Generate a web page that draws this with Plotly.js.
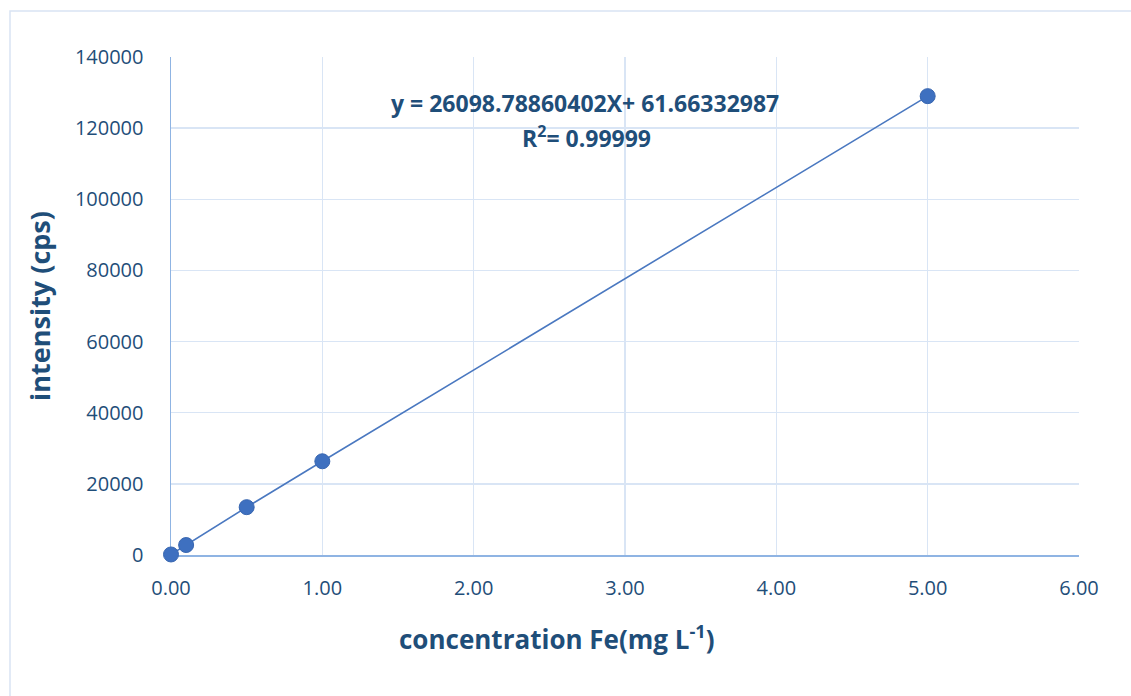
<!DOCTYPE html>
<html>
<head>
<meta charset="utf-8">
<script src="https://cdn.plot.ly/plotly-3.0.1.min.js"></script>
<style>
html,body{margin:0;padding:0;background:#fff;}
#chart{width:1131px;height:696px;}
</style>
</head>
<body>
<div id="chart"></div>
<script>
// Data
const concentration = [0.0, 0.1, 0.5, 1.0, 5.0];          // mg L-1
const intensity = [150, 2800, 13450, 26350, 129000];       // cps
const xTicks = [0, 1, 2, 3, 4, 5, 6];
const xTickLabels = ["0.00", "1.00", "2.00", "3.00", "4.00", "5.00", "6.00"];
const yTicks = [0, 20000, 40000, 60000, 80000, 100000, 120000, 140000];
const yTickLabels = ["0", "20000", "40000", "60000", "80000", "100000", "120000", "140000"];
const equationText = "y = 26098.78860402X+ 61.66332987";
const r2Text = "R<sup>2</sup>= 0.99999";
const xTitle = "concentration Fe(mg L<sup>-1</sup>)";
const yTitle = "intensity (cps)";

const textColor = "#1F4E79";
const fontFam = "Open Sans, Lato, sans-serif";

const traces = [
  {
    x: concentration,
    y: intensity,
    type: "scatter",
    mode: "lines+markers",
    cliponaxis: false,
    line: {color: "#4A78C0", width: 1.6},
    marker: {color: "#3E70C0", size: 15, line: {color: "#3866B0", width: 1}},
    hoverinfo: "x+y",
    showlegend: false
  }
];

const layout = {
  width: 1131,
  height: 696,
  paper_bgcolor: "#ffffff",
  plot_bgcolor: "#ffffff",
  margin: {l: 171, r: 52, t: 57, b: 141, pad: 0},
  font: {family: fontFam, color: textColor, size: 20},
  xaxis: {
    range: [0, 6],
    tickvals: xTicks,
    ticktext: xTickLabels,
    showgrid: true,
    gridcolor: "#D9E5F5",
    gridwidth: 1.5,
    zeroline: false,
    showline: true,
    linecolor: "#8FB4E3",
    linewidth: 1.5,
    layer: "below traces",
    ticks: "outside",
    ticklen: 14,
    tickcolor: "rgba(0,0,0,0)",
    tickfont: {family: fontFam, size: 20, color: textColor},
    fixedrange: true
  },
  yaxis: {
    range: [0, 140000],
    tickvals: yTicks,
    ticktext: yTickLabels,
    showgrid: true,
    gridcolor: "#D9E5F5",
    gridwidth: 1.5,
    zeroline: false,
    showline: true,
    linecolor: "#8FB4E3",
    linewidth: 1.5,
    layer: "below traces",
    ticks: "outside",
    ticklen: 22,
    tickcolor: "rgba(0,0,0,0)",
    tickfont: {family: fontFam, size: 20, color: textColor},
    title: {
      text: yTitle,
      font: {family: fontFam, size: 27, color: textColor, weight: "bold"},
      standoff: 16
    },
    fixedrange: true
  },
  annotations: [
    {
      xref: "paper", yref: "paper",
      x: (585 - 171) / 908, y: (555 - 103) / 498,
      xanchor: "center", yanchor: "middle",
      text: equationText,
      showarrow: false,
      font: {family: fontFam, size: 23, color: textColor, weight: "bold"}
    },
    {
      xref: "paper", yref: "paper",
      x: (586 - 171) / 908, y: (555 - 137) / 498,
      xanchor: "center", yanchor: "middle",
      text: r2Text,
      showarrow: false,
      font: {family: fontFam, size: 23, color: textColor, weight: "bold"}
    },
    {
      xref: "paper", yref: "paper",
      x: (557 - 171) / 908, y: (555 - 638) / 498,
      xanchor: "center", yanchor: "middle",
      text: xTitle,
      showarrow: false,
      font: {family: fontFam, size: 26, color: textColor, weight: "bold"}
    }
  ],
  shapes: [
    {
      type: "rect", xref: "paper", yref: "paper",
      x0: (10 - 171) / 908, x1: (1140 - 171) / 908,
      y0: (555 - 705) / 498, y1: (555 - 11) / 498,
      line: {color: "#D9E4F3", width: 1.5},
      fillcolor: "rgba(0,0,0,0)",
      layer: "below"
    }
  ]
};

Plotly.newPlot("chart", traces, layout, {displayModeBar: false, staticPlot: true});
</script>
</body>
</html>
